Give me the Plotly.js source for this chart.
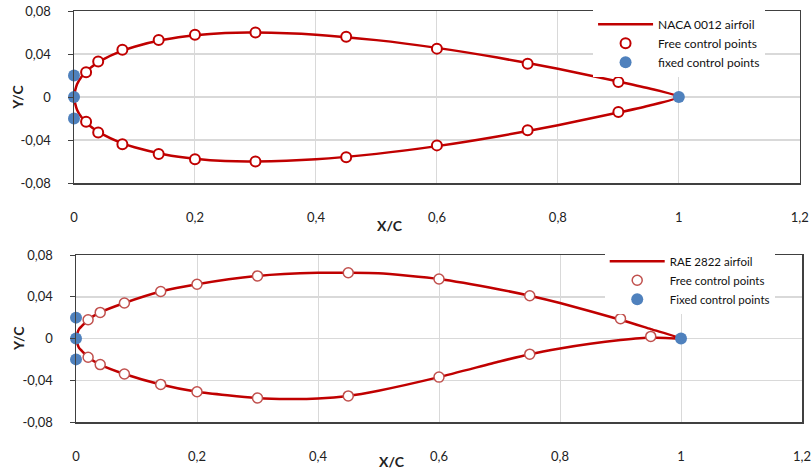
<!DOCTYPE html>
<html><head><meta charset="utf-8">
<script src="https://cdn.plot.ly/plotly-3.0.1.min.js"></script>
<style>html,body{margin:0;padding:0;background:#fff}#chart{width:812px;height:472px}</style>
</head><body><div id="chart"></div>
<script>
// ---- NACA 0012 (top chart) ----
const nacaUpperX = [0, 0.005, 0.0125, 0.025, 0.05, 0.075, 0.1, 0.15, 0.2, 0.25, 0.3, 0.4, 0.5, 0.6, 0.7, 0.8, 0.9, 0.95, 1];
const nacaUpperY = [0, 0.0118, 0.0189, 0.0262, 0.0355, 0.0420, 0.0468, 0.0534, 0.0574, 0.0596, 0.0600, 0.0580, 0.0529, 0.0457, 0.0367, 0.0262, 0.0145, 0.0081, 0];
const nacaLowerX = nacaUpperX;
const nacaLowerY = [0, -0.0118, -0.0189, -0.0262, -0.0355, -0.0420, -0.0468, -0.0534, -0.0574, -0.0596, -0.0600, -0.0580, -0.0529, -0.0457, -0.0367, -0.0262, -0.0145, -0.0081, 0];
const nacaFreeX = [0.02, 0.04, 0.08, 0.14, 0.2, 0.3, 0.45, 0.6, 0.75, 0.9, 0.02, 0.04, 0.08, 0.14, 0.2, 0.3, 0.45, 0.6, 0.75, 0.9];
const nacaFreeY = [0.023, 0.033, 0.044, 0.053, 0.058, 0.060, 0.056, 0.045, 0.031, 0.014, -0.023, -0.033, -0.044, -0.053, -0.058, -0.060, -0.056, -0.045, -0.031, -0.014];
const nacaFixedX = [0, 0, 0, 1];
const nacaFixedY = [0.02, 0, -0.02, 0];

// ---- RAE 2822 (bottom chart) ----
const raeUpperX = [0, 0.005, 0.01, 0.02, 0.04, 0.08, 0.14, 0.2, 0.3, 0.4, 0.45, 0.5, 0.6, 0.7, 0.75, 0.8, 0.9, 0.95, 1];
const raeUpperY = [0, 0.009, 0.012, 0.018, 0.025, 0.034, 0.045, 0.052, 0.060, 0.063, 0.063, 0.0625, 0.057, 0.047, 0.041, 0.034, 0.018, 0.009, 0];
const raeLowerX = [0, 0.005, 0.01, 0.02, 0.04, 0.08, 0.14, 0.2, 0.3, 0.35, 0.4, 0.45, 0.5, 0.6, 0.7, 0.75, 0.8, 0.85, 0.9, 0.95, 1];
const raeLowerY = [0, -0.009, -0.012, -0.018, -0.025, -0.034, -0.044, -0.051, -0.057, -0.058, -0.0575, -0.055, -0.050, -0.037, -0.022, -0.015, -0.0095, -0.005, -0.0015, 0.001, 0];
const raeFreeX = [0.02, 0.04, 0.08, 0.14, 0.2, 0.3, 0.45, 0.6, 0.75, 0.9, 0.02, 0.04, 0.08, 0.14, 0.2, 0.3, 0.45, 0.6, 0.75, 0.95];
const raeFreeY = [0.018, 0.025, 0.034, 0.045, 0.052, 0.060, 0.063, 0.057, 0.041, 0.019, -0.018, -0.025, -0.034, -0.044, -0.051, -0.057, -0.055, -0.037, -0.015, 0.002];
const raeFixedX = [0, 0, 0, 1];
const raeFixedY = [0.02, 0, -0.02, 0];

// ---- ticks ----
const xTickVals = [0, 0.2, 0.4, 0.6, 0.8, 1, 1.2];
const xTickText = ['0', '0,2', '0,4', '0,6', '0,8', '1', '1,2'];
const yTickVals = [-0.08, -0.04, 0, 0.04, 0.08];
const yTickText = ['-0,08', '-0,04', '0', '0,04', '0,08'];

const RED = '#c00000';
const BLUE = '#4f81bd';
const FONT = 'Lato, "Open Sans", sans-serif';

function closed(ux, uy, lx, ly) {
  const x = ux.slice().reverse().concat(lx.slice(1));
  const y = uy.slice().reverse().concat(ly.slice(1));
  return {x, y};
}
const naca = closed(nacaUpperX, nacaUpperY, nacaLowerX, nacaLowerY);
const rae = closed(raeUpperX, raeUpperY, raeLowerX, raeLowerY);

const traces = [
  {x: naca.x, y: naca.y, mode: 'lines', name: 'NACA 0012 airfoil', line: {color: RED, width: 2.5, shape: 'spline', smoothing: 0.6}, xaxis: 'x', yaxis: 'y', legend: 'legend'},
  {x: nacaFreeX, y: nacaFreeY, mode: 'markers', name: 'Free control points', cliponaxis: false, marker: {symbol: 'circle', size: 10, color: '#ffffff', line: {color: RED, width: 2}}, xaxis: 'x', yaxis: 'y', legend: 'legend'},
  {x: nacaFixedX, y: nacaFixedY, mode: 'markers', name: 'fixed control points', cliponaxis: false, marker: {symbol: 'circle', size: 12, color: BLUE}, xaxis: 'x', yaxis: 'y', legend: 'legend'},
  {x: rae.x, y: rae.y, mode: 'lines', name: 'RAE 2822 airfoil', line: {color: RED, width: 2.5, shape: 'spline', smoothing: 0.6}, xaxis: 'x2', yaxis: 'y2', legend: 'legend2'},
  {x: raeFreeX, y: raeFreeY, mode: 'markers', name: 'Free control points', cliponaxis: false, marker: {symbol: 'circle', size: 10, color: '#ffffff', line: {color: '#c0504d', width: 1.5}}, xaxis: 'x2', yaxis: 'y2', legend: 'legend2'},
  {x: raeFixedX, y: raeFixedY, mode: 'markers', name: 'Fixed control points', cliponaxis: false, marker: {symbol: 'circle', size: 12, color: BLUE}, xaxis: 'x2', yaxis: 'y2', legend: 'legend2'}
];

function xax(domain, anchor) {
  return {domain, anchor, range: [0, 1.2], tickvals: xTickVals, ticktext: xTickText, ticks: '',
    ticklabelstandoff: 22, showgrid: true, gridcolor: '#d9d9d9', gridwidth: 1, zeroline: false,
    showline: true, linecolor: '#404040', linewidth: 1.5, mirror: true, tickfont: {size: 13, color: '#222'}};
}
function yax(domain, anchor) {
  return {domain, anchor, range: [-0.08, 0.08], tickvals: yTickVals, ticktext: yTickText, ticks: 'outside',
    ticklen: 5, tickcolor: '#404040', ticklabelstandoff: 14, showgrid: true, gridcolor: '#d9d9d9', gridwidth: 1.5,
    zeroline: false, showline: true, linecolor: '#404040', linewidth: 1.5, mirror: true, tickfont: {size: 13, color: '#222'}};
}

const layout = {
  width: 812, height: 472,
  margin: {l: 74, r: 10, t: 11, b: 50},
  paper_bgcolor: '#ffffff', plot_bgcolor: '#ffffff',
  font: {family: FONT, size: 13, color: '#222'},
  xaxis: xax([0, 0.997], 'y'),
  yaxis: yax([0.5815, 1], 'x'),
  xaxis2: xax([0.00275, 1], 'y2'),
  yaxis2: yax([0, 0.4063], 'x2'),
  showlegend: true,
  legend: {x: 0.713, xanchor: 'left', y: 1.003, yanchor: 'top', bgcolor: '#ffffff', borderwidth: 0,
    font: {size: 12, family: FONT, color: '#111'}, itemwidth: 55, tracegroupgap: 0},
  legend2: {x: 0.729, xanchor: 'left', y: 0.4263, yanchor: 'top', bgcolor: '#ffffff', borderwidth: 0,
    font: {size: 11.5, family: FONT, color: '#111'}, itemwidth: 55, tracegroupgap: 0},
  annotations: [
    {text: '<b>Y/C</b>', xref: 'paper', yref: 'paper', x: -0.077, y: 0.791, xanchor: 'center', yanchor: 'middle', showarrow: false, textangle: -90, font: {size: 14}},
    {text: '<b>Y/C</b>', xref: 'paper', yref: 'paper', x: -0.077, y: 0.204, xanchor: 'center', yanchor: 'middle', showarrow: false, textangle: -90, font: {size: 14}},
    {text: '<b>X/C</b>', xref: 'paper', yref: 'paper', x: 0.434, y: 0.477, xanchor: 'center', yanchor: 'middle', showarrow: false, font: {size: 14}},
    {text: '<b>X/C</b>', xref: 'paper', yref: 'paper', x: 0.437, y: -0.0973, xanchor: 'center', yanchor: 'middle', showarrow: false, font: {size: 14}}
  ]
};

Plotly.newPlot('chart', traces, layout, {displayModeBar: false, staticPlot: true});
</script></body></html>
